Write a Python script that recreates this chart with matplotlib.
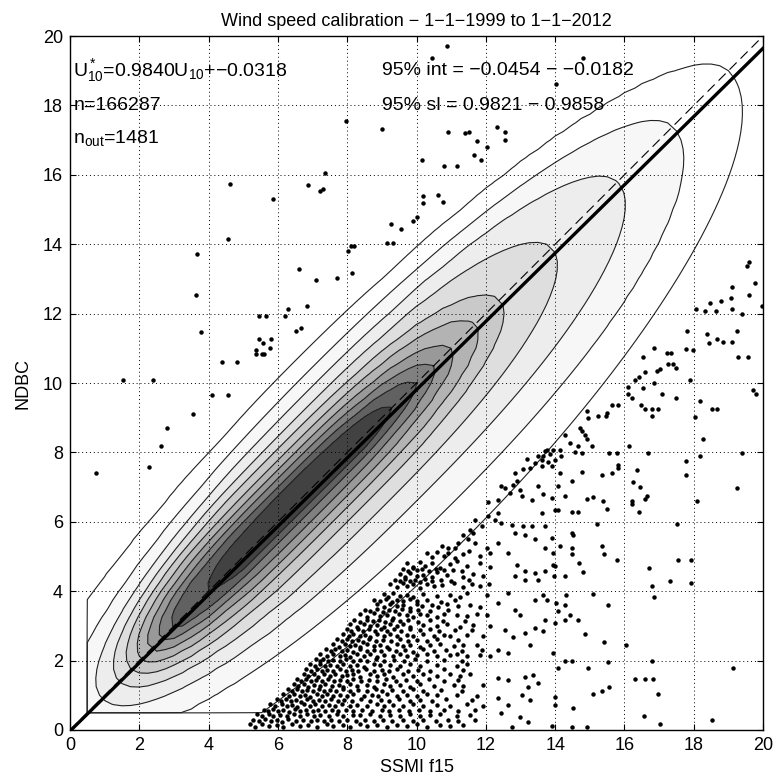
import numpy as np
import matplotlib
matplotlib.use('Agg')
import matplotlib.pyplot as plt

plt.rcParams['font.family'] = ['Liberation Sans', 'DejaVu Sans']
plt.rcParams['mathtext.fontset'] = 'custom'
plt.rcParams['mathtext.rm'] = 'Liberation Sans'
plt.rcParams['mathtext.it'] = 'Liberation Sans'

# fit results
fit_slope = 0.9840
fit_int = -0.0318
line_x = [0, 20]

# contour levels of the 2d histogram:
# along-diagonal start/end (x units), vertical half width above / below y=x, end roundness
lvl_s0 = [-2.0, 0.3, 0.9, 1.3, 1.7, 2.0, 2.3, 2.6, 2.9, 4.0]
lvl_s1 = [19.0, 17.5, 15.8, 13.9, 12.4, 11.7, 11.0, 10.5, 10.0, 9.3]
lvl_up = [4.1, 3.5, 2.9, 2.5, 2.1, 1.8, 1.5, 1.25, 1.0, 0.75]
lvl_dn = [5.9, 4.5, 3.4, 2.6, 2.0, 1.6, 1.25, 0.95, 0.65, 0.4]
lvl_p = [2.0, 2.2, 2.4, 2.6, 2.8, 3.0, 3.0, 3.0, 3.0, 3.0]
lvl_gray = [1.0, 0.97, 0.93, 0.87, 0.79, 0.70, 0.60, 0.50, 0.38, 0.26]

# outliers above the cloud
upper_pts = [
    (7.97, 17.55), (7.36, 16.06), (6.86, 15.72), (7.22, 15.53), (7.29, 15.59), (4.62, 15.73),
    (5.87, 15.3), (4.57, 14.14), (3.67, 13.71), (8.03, 13.81), (8.11, 13.96), (8.2, 13.96),
    (6.62, 13.28), (7.1, 12.97), (7.7, 13.02), (8.13, 13.18), (3.64, 12.54), (6.83, 12.22),
    (6.3, 12.12), (6.21, 11.93), (3.77, 11.48), (5.44, 11.93), (5.65, 11.93), (6.51, 11.5),
    (6.66, 11.58), (5.46, 11.26), (5.8, 11.26), (5.56, 11.14), (5.37, 10.95), (5.37, 10.84),
    (5.53, 10.84), (5.61, 10.84), (5.77, 11.0), (4.38, 10.61), (4.83, 10.61), (1.54, 10.09),
    (2.39, 10.09), (4.09, 9.65), (4.57, 9.65), (3.54, 9.12), (2.79, 8.69), (2.63, 8.19),
    (2.28, 7.57), (0.75, 7.42),
    (10.87, 19.71), (10.46, 19.36), (14.8, 19.36), (14.03, 18.62), (9.0, 17.31), (10.9, 17.24),
    (11.4, 17.21), (11.52, 17.24), (12.33, 17.37), (12.55, 17.24), (12.55, 17.0), (11.75, 16.98),
    (12.04, 16.79), (10.15, 16.43), (11.67, 16.57), (11.86, 16.43), (10.8, 16.26), (11.18, 16.26),
    (10.2, 15.39), (10.2, 15.2), (10.61, 15.42), (10.75, 15.22), (9.26, 14.57), (9.55, 14.43),
    (9.91, 14.67), (10.0, 14.78), (9.16, 14.04), (9.31, 14.04),
]

# outliers below the cloud, sparse part
lower_pts = [
    (19.58, 13.5), (19.55, 13.38), (19.77, 12.88), (19.11, 12.78), (19.06, 12.44), (19.58, 12.54),
    (18.79, 12.37), (18.07, 12.13), (18.31, 12.08), (18.47, 12.32), (19.1, 12.13), (19.38, 12.0),
    (19.96, 12.23), (18.65, 12.07),
    (17.8, 11.5), (18.38, 11.4), (18.43, 11.16), (18.67, 11.28), (18.85, 11.18), (19.1, 11.18),
    (19.24, 11.49), (19.27, 10.76), (19.56, 10.75),
    (16.86, 11.0), (17.22, 10.86), (17.34, 10.86), (17.77, 10.97), (17.99, 10.95), (16.54, 10.75),
    (17.27, 10.54), (17.4, 10.54), (17.5, 10.42), (17.03, 10.41), (16.93, 10.35), (16.59, 10.32),
    (16.42, 10.18), (16.3, 10.1), (16.09, 9.89), (16.85, 10.0), (16.54, 9.87), (17.09, 9.69),
    (17.48, 9.56), (17.9, 10.1), (19.71, 9.79), (19.8, 9.67),
    (16.09, 9.67), (16.21, 9.58), (16.48, 9.36), (16.59, 9.26), (16.78, 9.26), (16.96, 9.26),
    (16.78, 9.05), (18.18, 9.48), (18.04, 9.03), (18.52, 9.26), (18.68, 9.26),
    (15.63, 9.36), (15.82, 9.38), (15.46, 9.05), (15.51, 9.14), (15.25, 9.05), (14.91, 9.19),
    (14.94, 9.0), (14.72, 8.71), (14.77, 8.61), (14.28, 8.49), (14.86, 8.49), (14.91, 8.39),
    (14.43, 8.28), (14.67, 8.18), (15.05, 8.18), (16.14, 8.18), (18.28, 8.39),
    (13.75, 8.08), (13.95, 8.08), (14.14, 8.08), (14.58, 8.01), (14.76, 7.97),
    (13.66, 7.89), (13.85, 7.94), (13.63, 7.77), (13.8, 7.73), (13.99, 7.78), (14.16, 7.89),
    (13.9, 7.6), (15.55, 7.97), (15.77, 7.97), (16.67, 7.97), (19.38, 7.99), (18.18, 7.89),
    (17.77, 7.75), (17.77, 7.34), (15.82, 7.65), (15.82, 7.56), (16.35, 7.49), (15.63, 7.41),
    (15.36, 7.34), (14.77, 7.43), (16.26, 7.14), (16.45, 7.01), (16.64, 6.74), (16.59, 6.67),
    (16.21, 6.59), (16.21, 6.5), (16.42, 6.28), (18.09, 6.61), (19.24, 6.98),
    (15.39, 6.59), (15.49, 6.37), (15.08, 6.72), (14.91, 6.66), (14.67, 6.28), (14.49, 6.28),
    (14.09, 6.35), (17.51, 5.95), (15.22, 5.95),
    (14.52, 5.61), (14.14, 5.29), (14.48, 5.25), (14.5, 5.08), (15.34, 5.29), (15.41, 5.08),
    (15.77, 4.89), (14.68, 4.81), (14.81, 4.54), (16.71, 4.67), (17.54, 4.89), (17.92, 4.89),
    (17.32, 4.28), (16.78, 4.14), (16.86, 3.82), (17.92, 4.23), (15.53, 3.61), (15.1, 3.93),
    (14.28, 4.45), (13.99, 4.74), (13.97, 4.45), (13.66, 3.9), (14.3, 3.9), (14.01, 3.66),
    (14.28, 3.61), (14.43, 3.32), (14.67, 3.16), (13.64, 2.86), (13.99, 3.08), (14.86, 2.76),
    (15.41, 2.53), (16.04, 2.44), (13.93, 2.21), (14.07, 1.78), (14.27, 2.0), (14.48, 2.0),
    (14.94, 1.78), (15.52, 1.97), (16.79, 2.0), (19.14, 1.78), (16.3, 1.46), (16.59, 1.46),
    (16.83, 1.46), (15.1, 1.03), (15.34, 1.11), (15.55, 1.25), (16.96, 1.03), (13.99, 0.96),
    (13.99, 0.72), (14.52, 0.63), (16.57, 0.39), (18.52, 0.29), (17.03, 0.17), (14.5, 0.08),
    (14.93, 0.08), (13.9, 0.12),
    (12.07, 6.56), (12.07, 6.16), (11.88, 5.87), (11.68, 6.06), (11.54, 5.77), (11.64, 5.68),
    (11.35, 5.63), (11.49, 5.49), (11.68, 5.39), (11.2, 5.39), (11.11, 5.25), (10.91, 5.25),
    (10.72, 5.29), (12.26, 6.06), (12.02, 5.25),
    (12.36, 6.64), (12.55, 6.98), (12.79, 7.07), (12.89, 7.17), (12.98, 6.93), (13.03, 6.74),
    (12.7, 6.83), (12.36, 6.26), (12.45, 5.97), (12.74, 5.92), (13.08, 5.87), (12.84, 5.68),
    (13.13, 5.63), (13.42, 5.49), (13.9, 5.53), (12.36, 5.39), (12.65, 5.1), (12.89, 4.76),
    (13.13, 4.57), (13.42, 4.52), (13.71, 4.57), (13.95, 4.76), (13.51, 4.33), (13.13, 4.33),
    (12.84, 4.43), (12.36, 3.66), (12.65, 3.95), (12.84, 3.46), (12.98, 3.32), (12.36, 1.49),
    (12.65, 1.44), (13.13, 1.54), (13.37, 1.59), (13.51, 1.35), (13.23, 1.25), (13.03, 1.01),
    (13.27, 0.87), (12.36, 0.91), (12.65, 0.72), (12.45, 0.48), (12.98, 0.38), (12.74, 0.1),
    (13.23, 0.24), (13.32, 6.64), (13.51, 7.03), (13.66, 6.79), (13.9, 6.69), (14.09, 7.03),
    (14.14, 7.41), (14.48, 7.17), (14.28, 6.74), (13.99, 6.35), (13.61, 6.26), (13.32, 5.87),
    (13.71, 5.87), (14.48, 5.68), (13.71, 5.25), (13.95, 5.1), (13.42, 3.75), (13.76, 3.75),
    (13.71, 3.18), (14.09, 3.42), (14.28, 3.18), (13.42, 2.94), (13.13, 2.79), (12.79, 2.69),
    (12.55, 2.89), (13.27, 2.45), (12.36, 2.31), (12.65, 2.21), (12.45, 7.03), (12.84, 7.41),
    (13.08, 7.51), (13.27, 7.56), (13.42, 7.7), (13.18, 7.8), (13.51, 7.89), (13.71, 8.04),
    (13.61, 7.6),
]

# outliers below the cloud, dense part (rows of x, y from top to bottom)
cloud_rows = [
    ([10.3, 10.44, 10.58, 10.78, 10.92, 11.11, 11.35, 11.5, 11.83, 12.12],
     [5.1, 4.98, 5.14, 5.02, 5.1, 4.96, 5.08, 5.16, 5.0, 5.1]),
    ([9.72, 9.91, 10.1, 10.25, 10.44, 10.68, 10.97, 11.16, 11.45, 11.83, 12.12],
     [4.8, 4.7, 4.84, 4.74, 4.8, 4.68, 4.78, 4.86, 4.72, 4.8, 4.7]),
    ([9.62, 9.76, 9.9, 10.02, 10.15, 10.35, 10.55, 10.8, 11.05, 11.3],
     [4.64, 4.58, 4.66, 4.6, 4.63, 4.57, 4.65, 4.6, 4.62, 4.58]),
    ([9.53, 9.67, 9.82, 10.01, 10.2, 10.44, 10.58, 10.87, 11.35, 11.64, 11.93],
     [4.5, 4.4, 4.52, 4.44, 4.48, 4.4, 4.54, 4.46, 4.42, 4.5, 4.45]),
    ([9.38, 9.52, 9.66, 9.8, 9.95, 10.1, 10.25, 10.45, 10.7, 11.0, 11.5],
     [4.33, 4.28, 4.35, 4.3, 4.32, 4.27, 4.34, 4.3, 4.33, 4.28, 4.31]),
    ([9.24, 9.43, 9.62, 9.72, 9.91, 10.1, 10.3, 10.49, 10.73, 11.07, 11.35, 11.59, 11.83, 12.08],
     [4.2, 4.12, 4.24, 4.15, 4.2, 4.1, 4.22, 4.14, 4.18, 4.24, 4.12, 4.2, 4.16, 4.22]),
    ([9.05, 9.19, 9.33, 9.53, 9.72, 9.91, 10.2, 10.58, 10.97, 11.26, 11.45, 12.03],
     [3.92, 3.84, 3.94, 3.86, 3.9, 3.82, 3.92, 3.86, 3.9, 3.84, 3.94, 3.88]),
    ([8.78, 8.95, 9.12, 9.28, 9.45, 9.62, 9.8, 10.0, 10.3, 10.7, 11.1],
     [3.76, 3.72, 3.78, 3.7, 3.75, 3.71, 3.77, 3.72, 3.75, 3.7, 3.76]),
    ([8.85, 9.05, 9.24, 9.43, 9.62, 9.82, 10.01, 10.15, 10.44, 10.63, 10.87, 11.21, 11.55, 11.83],
     [3.62, 3.55, 3.64, 3.56, 3.6, 3.52, 3.63, 3.58, 3.6, 3.54, 3.62, 3.58, 3.6, 3.55]),
    ([8.5, 8.66, 8.85, 9.02, 9.2, 9.38, 9.58, 9.8, 10.05, 10.4, 10.9],
     [3.47, 3.42, 3.48, 3.41, 3.46, 3.43, 3.48, 3.42, 3.46, 3.44, 3.47]),
    ([8.37, 8.57, 8.76, 8.95, 9.14, 9.33, 9.48, 9.72, 9.91, 10.1, 10.3, 10.58, 10.78, 11.16, 11.45, 11.74, 12.03],
     [3.34, 3.26, 3.36, 3.28, 3.32, 3.24, 3.35, 3.3, 3.27, 3.35, 3.3, 3.25, 3.33, 3.3, 3.28, 3.35, 3.3]),
    ([8.2, 8.38, 8.56, 8.74, 8.92, 9.1, 9.3, 9.52, 9.75, 10.05, 10.4, 10.75, 11.4],
     [3.17, 3.12, 3.18, 3.13, 3.16, 3.11, 3.18, 3.13, 3.16, 3.12, 3.17, 3.13, 3.15]),
    ([8.08, 8.28, 8.47, 8.66, 8.85, 9.05, 9.24, 9.43, 9.62, 9.82, 10.2, 10.58, 10.87, 11.26, 11.64, 12.12],
     [3.05, 2.98, 3.06, 3.0, 3.04, 2.96, 3.05, 3.0, 3.06, 2.98, 3.03, 3.0, 3.05, 2.98, 3.04, 3.0]),
    ([7.98, 8.12, 8.3, 8.46, 8.62, 8.8, 8.98, 9.16, 9.34, 9.55, 9.8, 10.1, 10.4, 10.65, 11.1, 11.6],
     [2.9, 2.86, 2.91, 2.85, 2.9, 2.86, 2.92, 2.86, 2.9, 2.85, 2.9, 2.87, 2.91, 2.86, 2.89, 2.87]),
    ([7.89, 8.04, 8.18, 8.37, 8.52, 8.66, 8.85, 9.05, 9.24, 9.43, 9.72, 9.91, 10.2, 10.49, 10.78, 10.97, 11.45, 11.93],
     [2.76, 2.7, 2.78, 2.7, 2.75, 2.68, 2.77, 2.72, 2.76, 2.7, 2.74, 2.7, 2.77, 2.72, 2.75, 2.7, 2.74, 2.72]),
    ([7.7, 7.84, 8.0, 8.14, 8.3, 8.46, 8.64, 8.84, 9.04, 9.26, 9.52, 9.75, 10.0, 10.3, 10.6, 11.2],
     [2.61, 2.56, 2.62, 2.57, 2.6, 2.55, 2.62, 2.57, 2.6, 2.56, 2.61, 2.57, 2.6, 2.56, 2.62, 2.58]),
    ([7.6, 7.75, 7.94, 8.08, 8.23, 8.37, 8.57, 8.76, 8.95, 9.14, 9.43, 9.62, 9.82, 10.1, 10.39, 10.68, 11.07, 11.35, 11.74],
     [2.47, 2.4, 2.48, 2.42, 2.46, 2.4, 2.48, 2.43, 2.46, 2.4, 2.47, 2.42, 2.46, 2.4, 2.44, 2.48, 2.42, 2.46, 2.44]),
    ([7.4, 7.52, 7.66, 7.84, 8.0, 8.16, 8.36, 8.56, 8.76, 8.96, 9.2, 9.42, 9.66, 9.9, 10.2, 10.5, 10.85, 11.3, 11.9],
     [2.32, 2.27, 2.33, 2.28, 2.31, 2.26, 2.33, 2.28, 2.31, 2.27, 2.32, 2.28, 2.31, 2.26, 2.32, 2.28, 2.3, 2.27, 2.31]),
    ([7.22, 7.41, 7.6, 7.8, 7.94, 8.08, 8.28, 8.47, 8.66, 8.85, 9.05, 9.33, 9.53, 9.72, 10.01, 10.3, 10.58, 10.97, 11.16, 11.45, 11.83, 12.12],
     [2.18, 2.12, 2.2, 2.13, 2.17, 2.1, 2.19, 2.14, 2.18, 2.11, 2.17, 2.13, 2.2, 2.12, 2.16, 2.18, 2.12, 2.15, 2.19, 2.13, 2.16, 2.12]),
    ([7.1, 7.22, 7.3, 7.45, 7.6, 7.78, 7.96, 8.16, 8.36, 8.58, 8.82, 9.05, 9.36, 9.65, 9.95, 10.3, 10.8, 11.3],
     [2.04, 1.99, 2.05, 2.0, 2.03, 1.98, 2.05, 2.0, 2.03, 1.98, 2.04, 2.0, 2.03, 1.99, 2.04, 2.0, 2.02, 1.99]),
    ([6.93, 7.07, 7.22, 7.36, 7.51, 7.7, 7.89, 8.08, 8.28, 8.47, 8.76, 8.95, 9.24, 9.53, 9.82, 10.1, 10.58, 11.16, 11.45],
     [1.9, 1.84, 1.9, 1.83, 1.88, 1.84, 1.9, 1.85, 1.88, 1.82, 1.9, 1.86, 1.88, 1.84, 1.9, 1.85, 1.88, 1.84, 1.9]),
    ([6.82, 6.96, 7.12, 7.27, 7.42, 7.6, 7.78, 7.96, 8.14, 8.32, 8.54, 8.78, 9.0, 9.2, 9.45, 9.75, 10.05, 10.4, 10.8, 11.35],
     [1.75, 1.7, 1.76, 1.71, 1.74, 1.69, 1.76, 1.71, 1.74, 1.7, 1.75, 1.71, 1.74, 1.7, 1.75, 1.71, 1.74, 1.7, 1.75, 1.72]),
    ([6.74, 6.88, 7.03, 7.17, 7.32, 7.51, 7.65, 7.84, 7.99, 8.18, 8.37, 8.66, 8.85, 9.05, 9.33, 9.62, 9.91, 10.2, 10.58, 10.97, 11.26, 11.55],
     [1.6, 1.55, 1.62, 1.54, 1.6, 1.56, 1.62, 1.55, 1.58, 1.62, 1.54, 1.6, 1.56, 1.6, 1.54, 1.6, 1.57, 1.62, 1.55, 1.6, 1.56, 1.6]),
    ([6.55, 6.68, 6.82, 6.96, 7.1, 7.26, 7.44, 7.62, 7.8, 7.98, 8.18, 8.4, 8.62, 8.86, 9.12, 9.4, 9.7, 10.0, 10.35, 10.8, 11.2],
     [1.46, 1.41, 1.47, 1.42, 1.45, 1.4, 1.47, 1.42, 1.45, 1.41, 1.46, 1.42, 1.45, 1.41, 1.46, 1.42, 1.45, 1.41, 1.46, 1.42, 1.44]),
    ([6.45, 6.59, 6.74, 6.88, 7.03, 7.22, 7.36, 7.56, 7.75, 7.89, 8.08, 8.28, 8.57, 8.76, 9.05, 9.24, 9.53, 9.82, 10.1, 10.49, 11.07, 11.35, 11.93],
     [1.32, 1.26, 1.33, 1.25, 1.3, 1.27, 1.33, 1.26, 1.3, 1.24, 1.32, 1.28, 1.3, 1.25, 1.33, 1.28, 1.3, 1.25, 1.32, 1.28, 1.3, 1.26, 1.3]),
    ([6.3, 6.42, 6.56, 6.7, 6.84, 7.0, 7.18, 7.34, 7.5, 7.68, 7.88, 8.08, 8.3, 8.58, 8.82, 9.0, 9.3, 9.6, 9.9, 10.2, 10.7, 11.3],
     [1.17, 1.12, 1.18, 1.13, 1.16, 1.11, 1.18, 1.13, 1.16, 1.12, 1.17, 1.13, 1.16, 1.12, 1.17, 1.13, 1.16, 1.12, 1.17, 1.13, 1.15, 1.12]),
    ([6.16, 6.31, 6.45, 6.64, 6.79, 6.93, 7.12, 7.27, 7.41, 7.6, 7.8, 7.99, 8.18, 8.47, 8.71, 8.9, 9.14, 9.43, 9.72, 10.01, 10.3, 10.58, 11.16, 11.74],
     [1.03, 0.97, 1.04, 0.98, 1.02, 0.96, 1.04, 0.99, 1.03, 0.97, 1.02, 0.98, 1.04, 0.99, 1.01, 0.97, 1.03, 0.98, 1.02, 0.97, 1.03, 1.0, 1.02, 0.98]),
    ([5.98, 6.1, 6.24, 6.38, 6.52, 6.66, 6.84, 7.0, 7.18, 7.36, 7.54, 7.72, 7.92, 8.14, 8.4, 8.66, 8.96, 9.2, 9.5, 9.8, 10.1, 10.45, 10.85, 11.6],
     [0.88, 0.83, 0.89, 0.84, 0.87, 0.82, 0.89, 0.84, 0.87, 0.83, 0.88, 0.84, 0.87, 0.83, 0.88, 0.84, 0.87, 0.83, 0.88, 0.84, 0.86, 0.83, 0.88, 0.85]),
    ([5.78, 5.92, 6.11, 6.26, 6.4, 6.55, 6.74, 6.93, 7.07, 7.27, 7.46, 7.65, 7.84, 8.08, 8.28, 8.57, 8.85, 9.05, 9.33, 9.62, 9.91, 10.2, 10.58, 10.97, 11.45, 11.93],
     [0.74, 0.68, 0.75, 0.69, 0.73, 0.67, 0.75, 0.7, 0.74, 0.68, 0.73, 0.7, 0.75, 0.69, 0.72, 0.68, 0.74, 0.7, 0.73, 0.69, 0.75, 0.7, 0.72, 0.68, 0.74, 0.7]),
    ([5.6, 5.72, 5.85, 6.0, 6.16, 6.32, 6.48, 6.64, 6.82, 7.0, 7.16, 7.36, 7.56, 7.74, 7.96, 8.18, 8.44, 8.72, 9.0, 9.2, 9.48, 9.78, 10.06, 10.4, 10.8, 11.2, 11.7],
     [0.59, 0.54, 0.6, 0.55, 0.58, 0.53, 0.6, 0.55, 0.58, 0.54, 0.59, 0.55, 0.58, 0.54, 0.59, 0.55, 0.58, 0.54, 0.59, 0.55, 0.57, 0.54, 0.59, 0.55, 0.58, 0.54, 0.57]),
    ([5.39, 5.54, 5.73, 5.87, 6.07, 6.26, 6.45, 6.64, 6.83, 7.03, 7.22, 7.46, 7.7, 7.89, 8.18, 8.37, 8.66, 8.95, 9.24, 9.53, 9.82, 10.1, 10.39, 10.68, 11.16, 11.55],
     [0.45, 0.4, 0.46, 0.41, 0.44, 0.39, 0.46, 0.41, 0.45, 0.4, 0.44, 0.41, 0.46, 0.4, 0.44, 0.42, 0.45, 0.4, 0.44, 0.41, 0.46, 0.4, 0.43, 0.45, 0.41, 0.44]),
    ([5.28, 5.46, 5.62, 5.8, 5.96, 6.12, 6.3, 6.52, 6.72, 6.94, 7.14, 7.32, 7.54, 7.76, 7.98, 8.24, 8.5, 8.76, 9.04, 9.3, 9.6, 9.9, 10.2, 10.55, 10.9, 11.2, 11.7],
     [0.3, 0.25, 0.31, 0.26, 0.29, 0.24, 0.31, 0.26, 0.29, 0.25, 0.3, 0.26, 0.29, 0.25, 0.3, 0.26, 0.29, 0.25, 0.3, 0.26, 0.28, 0.25, 0.3, 0.26, 0.29, 0.25, 0.28]),
    ([5.2, 5.34, 5.54, 5.73, 5.97, 6.16, 6.4, 6.64, 6.88, 7.12, 7.41, 7.6, 7.89, 8.08, 8.37, 8.57, 8.85, 9.14, 9.43, 9.72, 10.01, 10.3, 10.68, 10.97, 11.35],
     [0.16, 0.1, 0.17, 0.11, 0.15, 0.1, 0.16, 0.12, 0.15, 0.1, 0.16, 0.11, 0.15, 0.1, 0.16, 0.12, 0.14, 0.1, 0.15, 0.11, 0.16, 0.1, 0.14, 0.11, 0.15]),
]

# ---- density field built from the level table ----
xg = np.concatenate([[0.49], np.arange(0.5, 20.01, 0.25)])
yg = np.concatenate([[0.49], np.arange(0.5, 20.01, 0.25)])
X, Y = np.meshgrid(xg, yg)
S = (X + Y) / 2
V = Y - X
F = np.zeros_like(X)
for s0, s1, up, dn, p in zip(lvl_s0, lvl_s1, lvl_up, lvl_dn, lvl_p):
    c = (s0 + s1) / 2
    a = (s1 - s0) / 2
    w = np.where(V >= 0, up, dn)
    r = (np.abs((S - c) / a) ** p + (V / w) ** 2) ** 0.5
    F += np.clip(0.5 + (1 - r) * 3, 0, 1)
F[0, :] = 0
F[:, 0] = 0

fig = plt.figure(figsize=(7.77, 7.83), dpi=100)
ax = fig.add_axes([0.0901, 0.0677, 0.892, 0.8863])

levels = np.arange(0.5, len(lvl_s0) + 1, 1.0)
ax.contourf(X, Y, F, levels=levels, colors=[str(g) for g in lvl_gray])
ax.contour(X, Y, F, levels=levels, colors='#222222', linewidths=0.8)

ux, uy = zip(*upper_pts)
lx, ly = zip(*lower_pts)
cx = np.concatenate([np.array(r[0]) for r in cloud_rows])
cy = np.concatenate([np.array(r[1]) for r in cloud_rows])
for px, py in [(ux, uy), (lx, ly), (cx, cy)]:
    ax.plot(px, py, 'o', color='k', ms=3.2, mew=0)

lx_ = np.array(line_x, dtype=float)
ax.plot(lx_, lx_, '--', color='k', lw=0.8, dashes=(9, 5))
ax.plot(lx_, fit_slope * lx_ + fit_int, '-', color='k', lw=2.4)

ax.set_xlim(0, 20)
ax.set_ylim(0, 20)
ax.set_xticks(np.arange(0, 21, 2))
ax.set_yticks(np.arange(0, 21, 2))
ax.tick_params(direction='in', length=4, labelsize=13, top=True, right=True, pad=5)
ax.grid(True, linestyle=(0, (1, 3)), color='k', lw=0.7)
ax.set_axisbelow(False)
for sp in ax.spines.values():
    sp.set_linewidth(1.0)

ax.set_xlabel('SSMI f15', fontsize=13, labelpad=4)
ax.set_ylabel('NDBC', fontsize=13, labelpad=8)
ax.set_title('Wind speed calibration \u2212 1\u22121\u22121999 to 1\u22121\u22122012', fontsize=13, pad=7)

ax.text(0.1, 19.0, 'U$^*_{10}$=0.9840U$_{10}$+\u22120.0318', fontsize=14, va='center', ha='left')
ax.text(0.1, 18.0, 'n=166287', fontsize=14, va='center', ha='left')
ax.text(0.1, 17.05, 'n$_{out}$=1481', fontsize=14, va='center', ha='left')
ax.text(9.0, 19.0, '95% int = \u22120.0454 \u2212 \u22120.0182', fontsize=14, va='center', ha='left')
ax.text(9.0, 18.0, '95% sl = 0.9821 \u2212 0.9858', fontsize=14, va='center', ha='left')

fig.savefig('out.png', dpi=100)
